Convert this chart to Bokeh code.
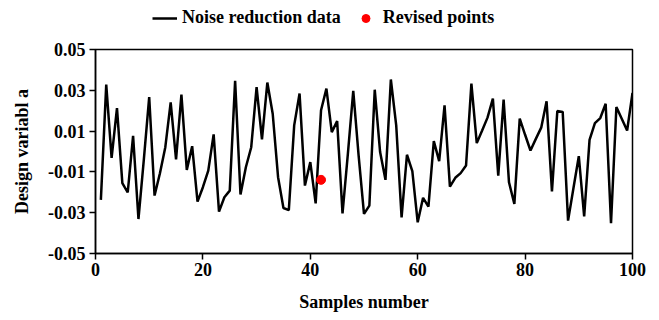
from bokeh.plotting import figure
from bokeh.layouts import column
from bokeh.models import Range1d, FixedTicker, Legend, LegendItem
from bokeh.embed import file_html
from bokeh.resources import INLINE

samples = list(range(1, 101))
noise_reduction = [
    -0.0237, 0.0328, -0.0031, 0.0213, -0.0155, -0.0201, 0.0077, -0.0331, -0.0040, 0.0267,
    -0.0216, -0.0107, 0.0021, 0.0241, -0.0039, 0.0279, -0.0090, 0.0026, -0.0246, -0.0175,
    -0.0094, 0.0084, -0.0295, -0.0224, -0.0192, 0.0346, -0.0211, -0.0077, 0.0021, 0.0316,
    0.0059, 0.0338, 0.0185, -0.0126, -0.0277, -0.0287, 0.0128, 0.0284, -0.0167, -0.0052,
    -0.0254, 0.0202, 0.0308, 0.0095, 0.0149, -0.0303, -0.0010, 0.0297, -0.0020, -0.0306,
    -0.0265, 0.0303, -0.0003, -0.0139, 0.0353, 0.0128, -0.0323, -0.0016, -0.0096, -0.0347,
    -0.0227, -0.0270, 0.0051, -0.0047, 0.0226, -0.0172, -0.0129, -0.0106, -0.0069, 0.0333,
    0.0041, 0.0103, 0.0166, 0.0259, -0.0118, 0.0254, -0.0151, -0.0257, 0.0161, 0.0082,
    0.0005, 0.0062, 0.0117, 0.0246, -0.0196, 0.0198, 0.0194, -0.0339, -0.0180, -0.0023,
    -0.0318, 0.0057, 0.0139, 0.0164, 0.0234, -0.0352, 0.0218, 0.0161, 0.0103, 0.0287,
]
revised_x = [42]
revised_y = [-0.0139]

x_ticks = [0, 20, 40, 60, 80, 100]
y_ticks = [-0.05, -0.03, -0.01, 0.01, 0.03, 0.05]
y_tick_labels = ["-0.05", "-0.03", "-0.01", "0.01", "0.03", "0.05"]

FONT = "Liberation Serif"
LINE_STYLE = dict(line_color="black", line_width=2.5)
POINT_STYLE = dict(size=9, fill_color="#ff0000", line_color="#ff0000")

# ---- legend strip (top) ----
leg = figure(width=659, height=30, output_backend="svg", toolbar_location=None,
             x_range=Range1d(0, 100), y_range=Range1d(-0.05, 0.05),
             x_axis_type=None, y_axis_type=None, min_border=0)
leg.grid.visible = False
leg.outline_line_color = None
l_line = leg.line(samples, noise_reduction, visible=False, **LINE_STYLE)
l_pt = leg.scatter(revised_x, revised_y, visible=False, **POINT_STYLE)
legend = Legend(items=[LegendItem(label="Noise reduction data", renderers=[l_line]),
                       LegendItem(label="Revised points", renderers=[l_pt])],
                orientation="horizontal", location=(57, 2),
                border_line_color=None, background_fill_alpha=0,
                inactive_fill_alpha=0,
                padding=0, margin=0, spacing=12, glyph_width=25, label_standoff=5,
                label_text_font=FONT, label_text_font_style="bold",
                label_text_font_size="18px", label_text_color="black")
leg.add_layout(legend, "center")

# ---- main chart ----
p = figure(width=659, height=290, output_backend="svg", toolbar_location=None,
           x_range=Range1d(0, 100), y_range=Range1d(-0.05, 0.05),
           min_border_left=95, min_border_right=27, min_border_top=19, min_border_bottom=67)
p.grid.visible = False
p.outline_line_color = "black"
p.outline_line_width = 1.5

p.line(samples, noise_reduction, **LINE_STYLE)
p.scatter(revised_x, revised_y, **POINT_STYLE)

for ax in (p.xaxis[0], p.yaxis[0]):
    ax.axis_line_color = "black"
    ax.axis_line_width = 1.5
    ax.major_tick_line_color = "black"
    ax.major_tick_line_width = 1.5
    ax.major_tick_out = 6
    ax.major_tick_in = 0
    ax.minor_tick_line_color = None
    ax.major_label_text_font = FONT
    ax.major_label_text_font_style = "bold"
    ax.major_label_text_font_size = "18px"
    ax.major_label_text_color = "black"
    ax.axis_label_text_font = FONT
    ax.axis_label_text_font_style = "bold"
    ax.axis_label_text_font_size = "18px"
    ax.axis_label_text_color = "black"

p.xaxis.ticker = FixedTicker(ticks=x_ticks)
p.yaxis.ticker = FixedTicker(ticks=y_ticks)
p.yaxis.major_label_overrides = {t: l for t, l in zip(y_ticks, y_tick_labels)}
p.xaxis.axis_label = "Samples number"
p.yaxis.axis_label = "Design variabl a"
p.xaxis.major_label_standoff = 3
p.yaxis.major_label_standoff = 4
p.xaxis.axis_label_standoff = 13
p.yaxis.axis_label_standoff = 13

layout = column(leg, p, spacing=0)
open("out.html", "w").write(file_html(layout, INLINE))
